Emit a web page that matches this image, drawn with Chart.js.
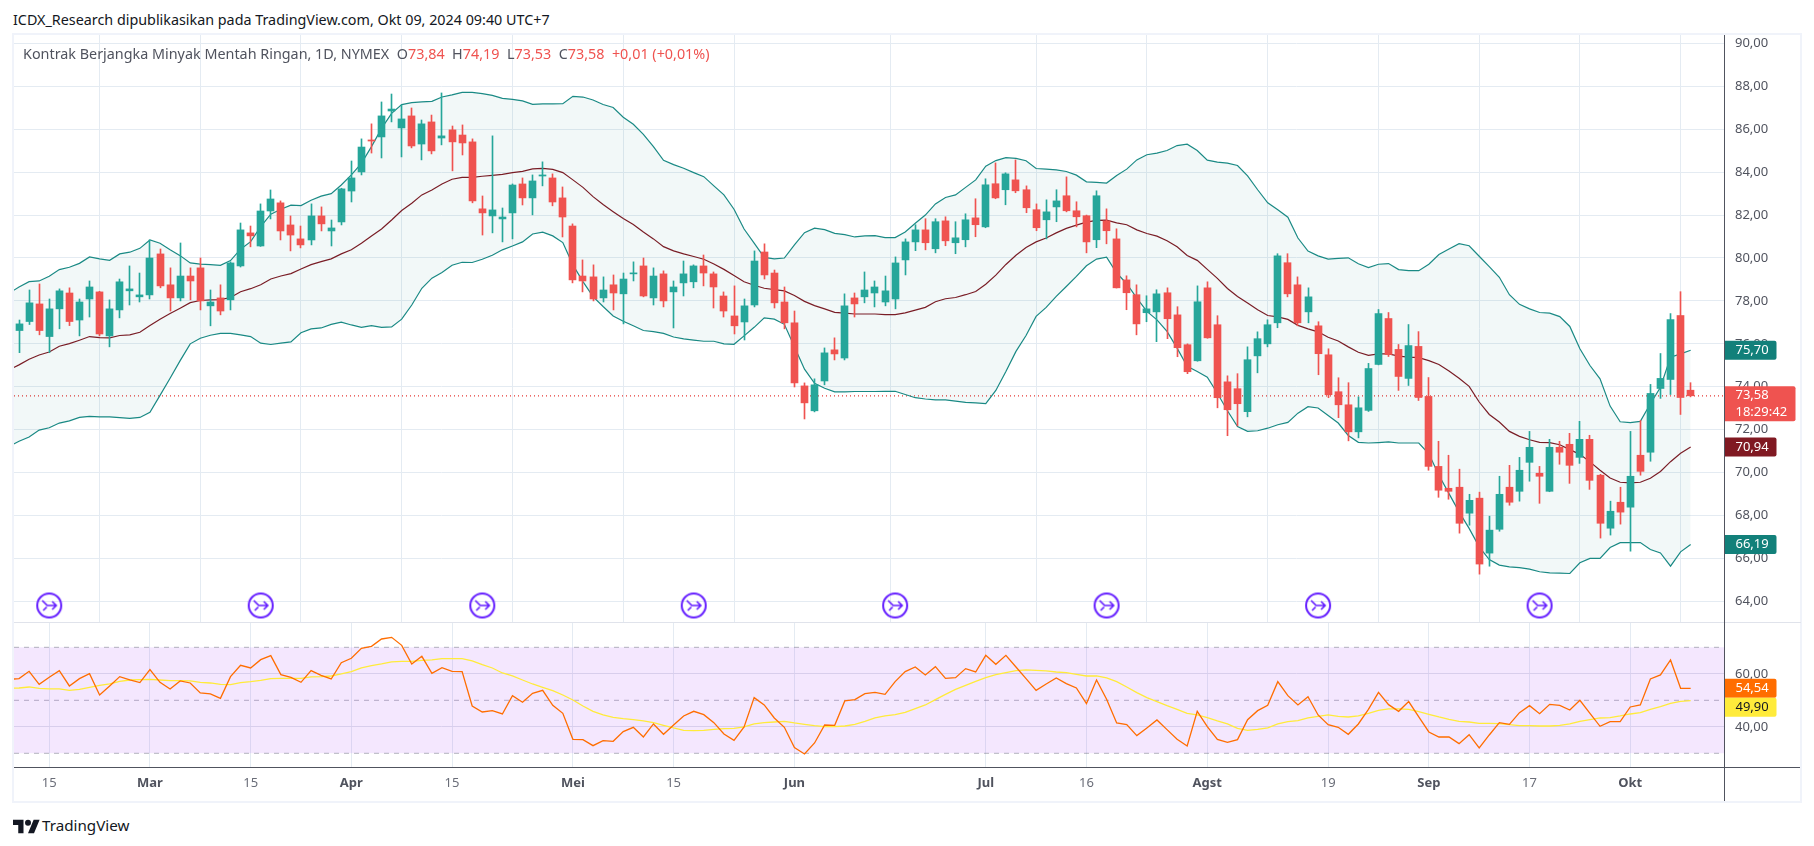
<!DOCTYPE html>
<html><head><meta charset="utf-8">
<script src="https://cdn.jsdelivr.net/npm/chart.js@4"></script>
<style>
html,body{margin:0;padding:0;background:#fff;width:1814px;height:846px;overflow:hidden;font-family:"Noto Sans",sans-serif}
canvas{position:absolute}
.t{position:absolute;white-space:pre}
.l{position:absolute}
</style></head><body>
<div class="t" id="title" style="left:13px;top:10px;font-size:14.33px;line-height:20px;color:#131722">ICDX_Research dipublikasikan pada TradingView.com, Okt 09, 2024 09:40 UTC+7</div>
<div class="l" style="left:12px;top:33px;width:1786px;height:766px;border:2px solid #f0f3fa"></div>
<canvas id="main" style="left:14px;top:35px"></canvas>
<canvas id="osc" style="left:14px;top:622px"></canvas>
<div class="l" style="left:14px;top:622px;width:1787px;height:1px;background:#e0e3eb"></div>
<div class="l" style="left:14px;top:767px;width:1786px;height:1px;background:#50535e"></div>
<div class="l" style="left:1724px;top:35px;width:1px;height:766px;background:#50535e"></div>
<div class="t" id="legend" style="left:23px;top:44px;font-size:14.37px;line-height:20px;color:#50535e">Kontrak Berjangka Minyak Mentah Ringan, 1D, NYMEX  O<span style="color:#ef5350">73,84</span>  H<span style="color:#ef5350">74,19</span>  L<span style="color:#ef5350">73,53</span>  C<span style="color:#ef5350">73,58</span>  <span style="color:#ef5350">+0,01 (+0,01%)</span></div>
<svg class="l" style="left:13px;top:819px" width="27" height="15" viewBox="0 3 36 20"><path fill="#131722" d="M14 22H7V11H0V4h14v18zM28 22h-8l7.5-18h8L28 22z"/><circle fill="#131722" cx="20" cy="8" r="4"/></svg>
<div class="t" style="left:42px;top:815px;font-size:15.2px;line-height:20px;color:#131722">TradingView</div>
<script>
const open=[76.62,77.04,77.86,76.34,77.63,78.37,77.11,78.09,78.42,76.37,
77.58,78.47,78.19,78.28,80.19,78.75,78.14,79.16,79.54,77.77,
78.14,78.05,79.63,81.17,80.56,82.19,82.57,81.54,80.89,80.84,
81.96,81.26,81.68,83.12,84.01,85.50,85.64,86.85,86.06,86.62,
85.31,86.34,85.59,85.97,85.73,85.41,82.29,81.96,81.82,82.10,
83.45,82.80,83.82,83.73,82.80,81.49,79.16,79.12,78.14,78.75,
78.33,79.26,79.63,78.14,79.26,78.42,78.84,78.89,79.63,79.26,
78.23,77.30,77.02,77.81,80.28,79.30,77.95,76.98,74.04,72.88,
74.27,75.72,75.34,78.14,78.19,78.37,77.95,78.09,79.91,80.75,
81.31,80.43,81.73,80.71,80.85,81.87,81.45,83.46,83.18,83.64,
83.18,82.25,81.78,82.38,82.90,82.20,81.97,80.85,81.73,80.89,
78.98,78.29,77.45,77.49,78.38,77.35,75.96,75.21,78.61,76.89,
74.23,73.91,72.84,75.44,76.00,76.98,79.78,78.75,77.49,76.84,
75.49,73.77,73.16,71.90,72.90,75.04,77.18,75.74,74.39,75.88,
73.55,70.29,69.27,69.32,68.11,68.81,66.25,67.36,69.32,69.13,
70.48,69.97,69.13,71.18,71.32,70.71,71.55,69.88,67.41,68.62,
68.39,70.81,70.95,73.92,74.34,77.32,73.84];
const high=[77.11,78.51,78.79,78.09,78.56,78.61,78.09,78.93,78.45,78.05,
79.02,79.63,79.30,80.84,80.42,79.54,80.70,79.54,80.00,78.51,
78.75,79.82,81.63,81.49,82.52,83.17,82.66,81.96,81.49,82.52,
82.38,81.77,83.25,84.52,85.55,86.25,87.27,87.64,87.13,86.99,
86.43,86.66,87.69,86.15,86.20,85.55,82.89,85.69,82.33,83.45,
83.73,83.87,84.48,83.92,83.31,81.59,79.91,79.68,79.12,79.21,
79.30,79.82,80.00,79.54,79.40,78.93,79.86,79.68,80.14,79.35,
78.42,78.70,78.09,80.33,80.66,79.44,78.65,77.53,74.18,74.37,
75.81,76.28,78.33,78.37,79.35,78.93,79.16,80.05,80.89,81.55,
81.83,81.83,81.92,81.69,82.06,82.76,83.69,84.43,83.97,84.57,
83.36,82.52,82.71,83.18,83.78,82.62,82.00,83.13,82.29,81.36,
79.17,78.75,78.24,78.52,78.61,77.73,76.00,78.70,78.89,77.31,
74.51,74.61,75.86,76.56,77.12,80.20,80.20,79.12,78.61,77.03,
75.77,74.42,74.19,73.53,75.09,77.60,77.46,75.97,76.90,76.57,
74.43,71.46,70.81,70.16,68.99,69.09,67.97,69.83,70.34,70.71,
71.92,70.29,71.55,71.46,71.83,72.39,71.74,69.92,68.67,69.32,
71.92,72.43,74.11,75.55,77.41,78.43,74.19];
const low=[75.59,76.90,76.42,75.59,76.70,76.85,76.37,77.25,76.37,75.86,
77.21,77.81,77.95,78.09,78.61,77.53,78.00,78.05,77.58,76.84,
77.35,77.58,79.58,80.52,80.54,81.82,80.84,80.33,80.47,80.61,
81.26,80.56,81.54,82.61,83.87,84.89,84.66,86.34,84.71,85.13,
84.57,84.85,85.27,84.06,84.80,82.57,81.07,81.17,80.75,80.89,
82.47,82.01,83.36,82.43,80.98,78.84,78.42,78.00,77.95,77.58,
76.93,78.93,78.19,77.81,77.72,76.74,78.23,78.61,78.70,77.67,
77.25,76.46,76.18,77.72,79.02,77.67,76.70,73.99,72.50,72.83,
74.09,75.25,75.25,77.25,77.91,77.72,77.77,77.63,79.21,80.34,
80.38,80.24,80.57,80.20,80.52,80.99,81.41,82.76,82.48,83.04,
82.11,81.27,80.89,81.69,82.15,81.45,80.24,80.48,80.66,78.60,
77.59,76.42,77.03,76.10,76.24,75.40,74.61,75.19,76.26,73.02,
71.72,72.18,72.60,74.65,75.86,76.75,78.19,76.84,76.98,74.56,
73.49,72.56,71.48,71.62,72.85,75.02,75.41,73.83,74.06,73.36,
70.11,68.85,68.76,67.18,67.55,65.27,65.64,67.27,68.48,68.67,
69.60,68.57,69.11,70.39,69.50,70.43,69.22,66.95,67.09,67.60,
66.34,69.88,70.53,73.46,73.64,72.71,73.53];
const close=[76.93,77.91,76.62,77.63,78.47,77.04,77.95,78.65,76.46,77.63,
78.89,78.56,78.28,80.00,78.70,78.14,79.16,78.93,78.00,77.95,
77.53,79.77,81.31,81.03,82.19,82.75,81.26,81.07,80.61,81.96,
81.59,81.40,83.22,83.73,85.17,85.45,86.62,86.94,86.48,85.22,
86.25,84.99,85.69,85.41,85.36,82.66,82.10,82.24,81.91,83.40,
82.80,83.59,83.87,82.61,81.91,78.98,78.93,78.09,78.51,78.37,
79.02,79.30,78.23,79.16,78.00,78.65,79.26,79.63,79.30,78.65,
77.53,76.84,77.77,79.86,79.21,77.91,76.98,74.18,73.25,74.09,
75.58,75.53,77.77,77.86,78.51,78.65,78.47,79.77,80.75,81.31,
80.71,81.69,80.80,80.94,81.78,81.55,83.41,82.80,83.92,83.13,
82.34,81.41,82.15,82.66,82.20,81.92,80.75,82.90,81.27,78.61,
78.38,76.93,77.63,78.33,77.17,75.82,74.70,77.96,76.28,73.49,
72.93,73.21,75.26,76.24,76.89,80.10,78.33,76.98,78.19,75.54,
73.63,73.16,71.90,73.02,74.85,77.41,75.50,74.48,75.92,73.50,
70.29,69.18,69.13,67.64,68.71,65.74,67.32,68.99,68.62,70.11,
71.18,69.83,71.18,70.95,70.34,71.55,69.64,67.64,68.20,68.16,
69.83,70.06,73.69,74.39,77.13,73.50,73.58];
// Indicator series start one bar before the first visible candle.
const bbUpper=[78.36,78.65,78.90,78.93,79.15,79.46,79.57,79.75,80.05,79.96,79.89,
80.19,80.27,80.45,80.84,80.69,80.38,80.11,79.77,79.71,79.69,
79.66,79.88,80.41,80.76,81.46,82.04,82.27,82.46,82.44,82.69,
82.88,83.00,83.40,83.87,84.41,85.19,86.04,86.74,87.15,87.24,
87.27,87.30,87.50,87.60,87.72,87.72,87.66,87.58,87.44,87.39,
87.32,87.16,87.18,87.18,87.19,87.53,87.50,87.36,87.15,87.01,
86.56,86.23,85.76,85.19,84.55,84.35,84.18,83.98,83.79,83.36,
82.94,82.27,81.35,80.69,80.03,79.96,80.00,80.61,81.18,81.39,
81.32,81.15,81.09,80.98,81.03,81.04,80.95,80.95,81.21,81.62,
82.00,82.52,82.82,82.94,83.29,83.64,84.28,84.54,84.68,84.64,
84.53,84.17,84.14,84.11,84.03,83.86,83.55,83.52,83.49,83.84,
84.14,84.57,84.81,84.89,85.01,85.24,85.30,85.01,84.56,84.47,
84.42,84.31,83.83,83.18,82.57,82.25,81.90,80.93,80.32,80.10,
79.95,79.98,80.01,79.73,79.55,79.71,79.74,79.46,79.41,79.41,
79.71,80.16,80.42,80.67,80.57,80.08,79.60,79.10,78.29,77.84,
77.63,77.46,77.43,77.27,76.81,75.77,74.99,74.37,73.10,72.37,
72.33,72.39,73.21,73.98,75.38,75.53,75.70];
const bbBasis=[74.79,75.02,75.28,75.48,75.62,75.89,76.01,76.17,76.34,76.29,76.28,
76.39,76.42,76.54,76.85,77.15,77.41,77.66,77.92,78.02,78.05,
78.06,78.16,78.43,78.57,78.75,79.02,79.16,79.27,79.49,79.69,
79.83,79.96,80.19,80.38,80.69,81.03,81.35,81.77,82.21,82.55,
82.94,83.17,83.45,83.67,83.76,83.76,83.81,83.85,83.90,83.98,
84.04,84.15,84.18,84.13,83.98,83.64,83.29,82.86,82.49,82.16,
81.84,81.56,81.21,80.89,80.53,80.33,80.19,80.07,79.94,79.72,
79.47,79.18,78.89,78.73,78.59,78.53,78.47,78.25,77.98,77.78,
77.63,77.47,77.43,77.39,77.39,77.39,77.36,77.36,77.44,77.57,
77.70,77.96,78.10,78.16,78.29,78.44,78.78,79.20,79.70,80.13,
80.49,80.75,80.93,81.17,81.38,81.53,81.67,81.75,81.76,81.64,
81.55,81.31,81.14,81.02,80.80,80.52,80.12,79.89,79.47,79.05,
78.58,78.21,77.90,77.59,77.32,77.26,77.14,76.86,76.70,76.56,
76.31,76.13,75.86,75.61,75.46,75.53,75.53,75.43,75.38,75.36,
75.22,75.04,74.73,74.40,74.02,73.29,72.71,72.36,71.92,71.69,
71.53,71.41,71.40,71.30,71.07,70.85,70.50,70.11,69.75,69.55,
69.52,69.55,69.74,70.05,70.51,70.90,71.19];
const bbLower=[71.22,71.46,71.66,71.98,72.09,72.31,72.41,72.57,72.62,72.60,72.60,
72.56,72.53,72.57,72.81,73.60,74.40,75.22,76.00,76.26,76.40,
76.49,76.49,76.42,76.34,76.03,75.97,76.03,76.09,76.52,76.70,
76.74,76.91,77.01,76.88,76.77,76.85,76.77,76.79,77.15,77.81,
78.59,79.06,79.32,79.66,79.80,79.79,79.94,80.13,80.38,80.56,
80.75,81.12,81.20,81.03,80.72,79.68,78.90,78.20,77.74,77.30,
77.05,76.84,76.62,76.57,76.49,76.32,76.23,76.17,76.12,76.12,
76.00,75.98,76.37,76.77,77.21,77.15,76.91,75.87,74.82,74.16,
73.93,73.76,73.76,73.78,73.78,73.78,73.79,73.79,73.64,73.49,
73.43,73.39,73.39,73.33,73.27,73.25,73.22,73.83,74.71,75.65,
76.39,77.28,77.70,78.21,78.67,79.14,79.64,79.95,80.04,79.30,
78.80,78.13,77.51,77.12,76.58,75.80,74.95,74.71,74.45,73.70,
72.88,72.15,71.92,71.95,72.07,72.23,72.34,72.77,73.07,73.01,
72.66,72.31,71.73,71.41,71.38,71.40,71.43,71.38,71.38,71.38,
70.88,69.88,69.02,68.17,67.40,66.54,65.95,65.69,65.61,65.57,
65.50,65.38,65.33,65.32,65.30,65.80,66.00,66.00,66.51,66.74,
66.74,66.74,66.42,66.26,65.64,66.31,66.65];
const rsi=[57.92,58.18,60.94,56.04,58.68,61.19,55.41,58.18,60.06,52.01,55.41,
58.93,57.67,56.67,61.57,56.79,54.28,57.30,56.54,52.77,52.39,
50.75,58.93,63.21,62.20,65.35,66.86,59.69,58.68,56.79,61.19,
59.43,58.05,64.21,65.85,69.62,70.38,73.14,73.77,70.75,63.71,
66.60,60.19,62.33,60.94,60.82,47.86,45.60,46.10,44.84,51.76,
49.25,52.64,53.77,48.11,45.09,35.28,35.16,32.89,34.78,34.53,
38.18,39.81,36.16,41.07,37.17,40.69,44.09,45.85,44.59,41.57,
37.30,34.91,39.94,51.01,48.24,43.33,39.81,32.14,29.75,33.90,
40.69,40.57,49.75,50.25,52.52,53.02,52.26,57.04,60.82,62.58,
59.56,62.70,58.30,58.55,61.95,60.69,66.98,63.58,66.98,62.58,
58.18,53.77,56.16,58.43,56.29,54.65,48.74,57.67,50.38,41.45,
40.82,36.67,39.56,42.58,38.93,35.28,32.77,45.85,40.06,35.28,
34.15,35.16,42.70,46.10,48.11,57.04,51.76,48.24,51.38,44.47,
40.82,39.81,37.17,41.07,46.60,53.02,48.36,45.85,49.50,43.71,
38.05,36.16,36.16,33.65,37.04,32.01,36.92,41.57,40.94,45.35,
47.99,44.97,48.49,48.11,46.35,50.00,45.09,40.19,41.95,41.95,
47.48,48.24,58.05,59.56,65.22,54.54,54.54];
const rsiMa=[54.53,54.65,55.03,54.53,54.28,54.28,53.77,54.15,54.91,55.66,56.16,
57.17,57.67,57.80,57.92,57.67,57.42,57.42,57.30,56.79,56.54,
56.04,55.91,56.67,57.04,57.55,58.18,58.30,58.30,58.30,58.81,
58.93,59.18,59.94,60.82,62.20,63.08,63.71,64.47,64.72,64.72,
65.09,65.22,65.72,65.72,65.72,64.84,63.46,62.20,60.31,59.18,
57.67,56.16,54.91,53.65,52.01,50.13,47.86,45.85,44.47,43.58,
43.08,42.70,42.20,41.57,40.57,39.56,38.68,38.55,38.68,39.06,
39.31,39.43,39.94,41.07,41.57,41.82,42.08,41.45,40.94,40.44,
40.06,40.06,40.31,40.94,42.08,43.33,44.09,44.59,45.47,46.86,
48.24,50.25,52.26,54.15,55.66,57.17,58.55,59.69,60.44,61.19,
61.45,61.32,61.07,60.69,60.44,59.81,59.18,59.18,58.43,57.04,
55.03,52.89,51.01,49.50,47.99,46.60,45.09,44.47,43.46,42.20,
41.07,39.43,38.68,39.06,39.56,41.07,41.95,42.33,43.33,43.96,
44.47,43.96,43.71,44.09,45.09,46.23,46.73,46.73,46.60,45.72,
44.72,43.71,42.83,42.08,41.82,41.32,41.32,41.19,40.82,40.44,
40.44,40.31,40.31,40.57,41.07,42.08,42.70,43.33,43.46,44.09,
44.84,45.35,46.60,47.61,48.87,49.62,49.90];
const timeTickBars=[3,13,23,33,43,55,65,77,96,106,118,130,140,150,160];
const timeTickLabels=["15","Mar","15","Apr","15","Mei","15","Jun","Jul","16","Agst","19","Sep","17","Okt"];
const monthLabels=["Mar","Apr","Mei","Jun","Jul","Agst","Sep","Okt"];
const priceTicks=[64,66,68,70,72,74,76,78,80,82,84,86,88,90];
const oscTicks=[40,60];
const oscBands=[70,50,30];
const eventBars=[3,24,46,67,87,108,129,151];
const eventLevel=63.81;
const lastPrice=73.58;

const n=close.length;
const GREEN='#26a69a',RED='#ef5350',GRID='#e4ebf2',TXT='#50535e',FONT='"Noto Sans",sans-serif';
const XMIN=-0.5,XMAX=169.31;
const candleColor=close.map((c,i)=>c>=open[i]?GREEN:RED);
const ind=a=>a.map((y,k)=>({x:k-1,y}));
const flat=v=>[{x:XMIN,y:v},{x:XMAX,y:v}];
const isMonth=c=>!!c.tick&&monthLabels.includes(timeTickLabels[timeTickBars.indexOf(c.tick.value)]);

const snapBars={id:'snapBars',afterDatasetsUpdate(chart){
  chart.data.datasets.forEach((d,i)=>{ if(d.type==='bar'){ chart.getDatasetMeta(i).data.forEach(el=>{el.x=Math.round(el.x-0.5)+0.5;}); } });
}};
function tagPlugin(axisId,tags){return {id:'tags',afterDraw(chart){
  const s=chart.scales[axisId],c=chart.ctx,left=chart.chartArea.right+0.5;
  let lastBottom=-1e9;
  tags.forEach(t=>{
    const h=t.lines.length>1?35:19;
    let top=s.getPixelForValue(t.value)-9.5;
    if(t.stack&&top<lastBottom)top=lastBottom;
    lastBottom=top+h;
    c.save();c.fillStyle=t.bg;c.beginPath();c.roundRect(left,top,t.w,h,[0,2,2,0]);c.fill();
    c.fillStyle=t.fg;c.font='13px '+FONT;c.textBaseline='middle';c.textAlign='left';
    t.lines.forEach((tx,k)=>c.fillText(tx,left+11,top+9.5+k*16.5));
    c.restore();
  });
}}}
function gridX(){return {
  type:'linear',min:XMIN,max:XMAX,offset:false,
  afterBuildTicks:s=>{s.ticks=timeTickBars.map(v=>({value:v}));},
  grid:{color:GRID,drawTicks:false},border:{display:false}
};}

const ic=document.createElement('canvas');ic.width=30;ic.height=30;
(function(){const g=ic.getContext('2d');g.translate(15,15);g.strokeStyle='#651fff';g.lineWidth=2;g.beginPath();g.arc(0,0,12,0,Math.PI*2);g.stroke();
g.lineWidth=1.7;g.beginPath();g.moveTo(-7,-5);g.lineTo(-2,0);g.lineTo(7,0);g.moveTo(3,-4);g.lineTo(7,0);g.lineTo(3,4);g.moveTo(-6,5);g.lineTo(-2.5,1.5);g.stroke();})();

const bars=close.map((_,i)=>i);
const mainEl=document.getElementById('main');mainEl.width=1787;mainEl.height=587;mainEl.style.width='1787px';mainEl.style.height='587px';
new Chart(mainEl,{
  type:'bar',
  data:{datasets:[
    {type:'bar',label:'body',order:1,grouped:false,barThickness:7,data:bars.map(i=>({x:i,y:[open[i],close[i]]})),backgroundColor:candleColor,borderWidth:0,minBarLength:1},
    {type:'bar',label:'wick',order:2,grouped:false,barThickness:1,data:bars.map(i=>({x:i,y:[low[i],high[i]]})),backgroundColor:candleColor,borderWidth:0},
    {type:'line',label:'BB upper',order:3,data:ind(bbUpper),borderColor:'#1a8a85',borderWidth:1.2,pointRadius:0,tension:0,fill:{target:3,above:'rgba(0,110,110,0.05)',below:'rgba(0,110,110,0.05)'}},
    {type:'line',label:'BB lower',order:3,data:ind(bbLower),borderColor:'#1a8a85',borderWidth:1.2,pointRadius:0,tension:0,fill:false},
    {type:'line',label:'BB basis',order:3,data:ind(bbBasis),borderColor:'#801922',borderWidth:1.2,pointRadius:0,tension:0,fill:false},
    {type:'line',label:'last',order:4,data:flat(lastPrice),borderColor:'#e53935',borderWidth:1.2,borderDash:[1,3],pointRadius:0,fill:false},
    {type:'line',label:'events',order:5,showLine:false,data:eventBars.map(b=>({x:b,y:eventLevel})),pointStyle:ic,pointRadius:15}
  ]},
  options:{responsive:false,animation:false,devicePixelRatio:1,events:[],
    layout:{padding:0,autoPadding:false},
    plugins:{legend:{display:false},tooltip:{enabled:false}},
    scales:{
      x:Object.assign(gridX(),{ticks:{display:false,autoSkip:false},afterFit:s=>{s.height=0;s.paddingLeft=0;s.paddingRight=0;}}),
      y:{position:'right',min:63.04,max:90.39,
        afterBuildTicks:s=>{s.ticks=priceTicks.map(v=>({value:v}));},
        afterFit:s=>{s.width=77;s.paddingTop=0;s.paddingBottom=0;},
        grid:{color:GRID,drawTicks:false},border:{display:false},
        ticks:{autoSkip:false,padding:11,color:TXT,font:{family:FONT,size:13},callback:v=>v.toFixed(2).replace('.',',')}}
    }
  },
  plugins:[snapBars,tagPlugin('y',[
    {value:bbUpper[n],lines:['75,70'],bg:'#12807a',fg:'#fff',w:52},
    {value:lastPrice,lines:['73,58','18:29:42'],bg:RED,fg:'#fff',w:71},
    {value:bbBasis[n],lines:['70,94'],bg:'#801922',fg:'#fff',w:52},
    {value:bbLower[n],lines:['66,19'],bg:'#12807a',fg:'#fff',w:52}
  ])]
});

const oscEl=document.getElementById('osc');oscEl.width=1787;oscEl.height=180;oscEl.style.width='1787px';oscEl.style.height='180px';
new Chart(oscEl,{
  type:'line',
  data:{datasets:[
    {label:'70',order:5,data:flat(oscBands[0]),borderColor:'rgba(120,123,134,0.55)',borderWidth:1,borderDash:[5,5],pointRadius:0,fill:{target:2,above:'rgba(156,39,245,0.11)',below:'rgba(156,39,245,0.11)'}},
    {label:'50',order:5,data:flat(oscBands[1]),borderColor:'rgba(120,123,134,0.55)',borderWidth:1,borderDash:[5,5],pointRadius:0,fill:false},
    {label:'30',order:5,data:flat(oscBands[2]),borderColor:'rgba(120,123,134,0.55)',borderWidth:1,borderDash:[5,5],pointRadius:0,fill:false},
    {label:'MA',order:2,data:ind(rsiMa),borderColor:'#ffeb3b',borderWidth:1.3,pointRadius:0,tension:0,fill:false},
    {label:'RSI',order:1,data:ind(rsi),borderColor:'#ff6d00',borderWidth:1.3,pointRadius:0,tension:0,fill:false}
  ]},
  options:{responsive:false,animation:false,devicePixelRatio:1,events:[],
    layout:{padding:0,autoPadding:false},
    plugins:{legend:{display:false},tooltip:{enabled:false}},
    scales:{
      x:Object.assign(gridX(),{
        afterFit:s=>{s.height=34.7;s.paddingLeft=0;s.paddingRight=0;},
        ticks:{autoSkip:false,maxRotation:0,padding:8,
          color:c=>isMonth(c)?'#50535e':'#6a6d78',
          font:c=>({family:FONT,size:13,weight:isMonth(c)?'bold':'normal'}),
          callback:v=>timeTickLabels[timeTickBars.indexOf(v)]}
      }),
      y:{position:'right',min:24.72,max:79.55,
        afterBuildTicks:s=>{s.ticks=oscTicks.map(v=>({value:v}));},
        afterFit:s=>{s.width=77;s.paddingTop=0;s.paddingBottom=0;},
        grid:{color:'#e0e3eb',drawTicks:false},border:{display:false},
        ticks:{autoSkip:false,padding:11,color:TXT,font:{family:FONT,size:13},callback:v=>v.toFixed(2).replace('.',',')}}
    }
  },
  plugins:[tagPlugin('y',[
    {value:rsi[n],lines:['54,54'],bg:'#ff6d00',fg:'#fff',w:52},
    {value:rsiMa[n],lines:['49,90'],bg:'#ffeb3b',fg:'#131722',w:52,stack:true}
  ])]
});
</script>
</body></html>
